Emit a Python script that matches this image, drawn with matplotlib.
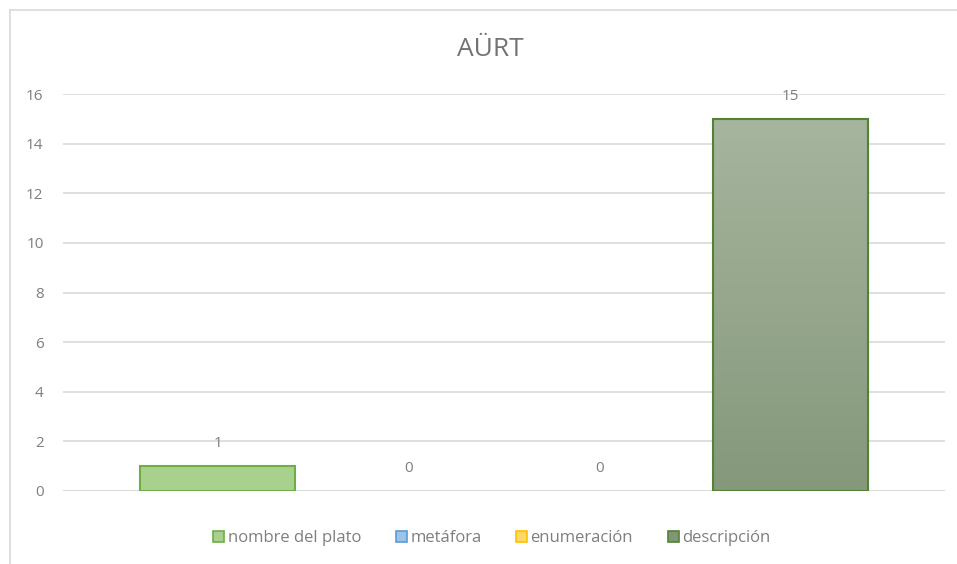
import numpy as np
import matplotlib.pyplot as plt
from matplotlib.patches import Rectangle
from matplotlib.lines import Line2D
from matplotlib.colors import LinearSegmentedColormap

# data
series = ['nombre del plato', 'metáfora', 'enumeración', 'descripción']
values = [1, 0, 0, 15]
yticks = [0, 2, 4, 6, 8, 10, 12, 14, 16]

faces = ['#a9d18e', '#9dc3e6', '#ffd966', '#94a98a']
edges = ['#70ad47', '#5b9bd5', '#ffc000', '#548235']
grad_top = '#a6b59e'
grad_bot = '#85987b'

plt.rcParams['font.family'] = ['Open Sans', 'DejaVu Sans']
txt = '#7f7f7f'

fig = plt.figure(figsize=(9.57, 5.64), dpi=100)
W, H = 957, 564
ax = fig.add_axes([63 / W, 1 - 491 / H, 882 / W, (491 - 94) / H])

# chart border (Excel chart area)
fig.add_artist(Line2D([10 / W, 10 / W], [0, 1 - 10 / H], transform=fig.transFigure, color='#d9d9d9', lw=1.2))
fig.add_artist(Line2D([10 / W, 1], [1 - 10 / H, 1 - 10 / H], transform=fig.transFigure, color='#d9d9d9', lw=1.2))

x = np.arange(len(values))
bw = 0.81
for i, v in enumerate(values):
    if v == 0:
        continue
    if i == 3:
        # gradient filled bar
        bar = ax.bar(x[i], v, width=bw, color='none', edgecolor=edges[i], linewidth=1.5, zorder=3)[0]
        grad = np.linspace(0, 1, 256).reshape(-1, 1)
        cm = LinearSegmentedColormap.from_list('g', [grad_bot, grad_top])
        im = ax.imshow(grad, cmap=cm, origin='lower', aspect='auto',
                       extent=[x[i] - bw / 2, x[i] + bw / 2, 0, v], zorder=2)
        im.set_clip_path(bar)
    else:
        ax.bar(x[i], v, width=bw, color=faces[i], edgecolor=edges[i], linewidth=1.5, zorder=3)

for i, v in enumerate(values):
    ax.annotate(str(v), (x[i], v), xytext=(0, 11), textcoords='offset points',
                ha='center', va='bottom', color=txt, fontsize=11)

ax.set_xlim(-0.81, 3.81)
ax.set_ylim(0, 16)
ax.set_yticks(yticks)
ax.set_xticks([])
ax.tick_params(axis='y', length=0, labelsize=11, labelcolor=txt, pad=14)
ax.grid(axis='y', color='#d9d9d9', lw=1.2, zorder=0)
ax.set_axisbelow(True)
for s in ax.spines.values():
    s.set_visible(False)
ax.axhline(0, color='#d9d9d9', lw=1.2, zorder=1)

fig.text(490 / W, 1 - 49 / H, 'AÜRT', ha='center', va='center', fontsize=19, color='#737373')

handles = [Rectangle((0, 0), 1, 1, facecolor=faces[i], edgecolor=edges[i], lw=1.2) for i in range(4)]
handles[3] = Rectangle((0, 0), 1, 1, facecolor='#7f9774', edgecolor=edges[3], lw=1.2)
fig.legend(handles, series, loc='center', bbox_to_anchor=(492 / W, 1 - 538 / H), ncol=4,
           frameon=False, fontsize=12, labelcolor=txt, handlelength=0.65, handleheight=0.65,
           handletextpad=0.2, columnspacing=2.1)

fig.savefig('out.png', dpi=100)
